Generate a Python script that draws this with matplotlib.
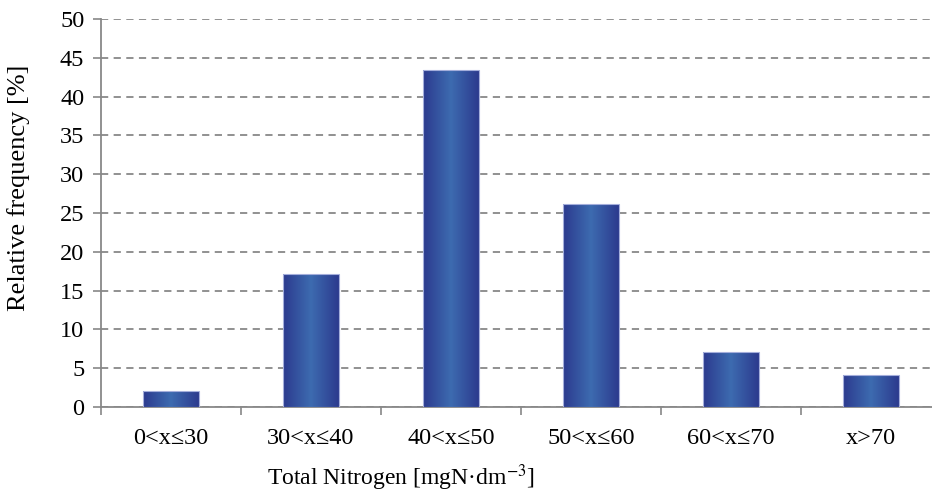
import numpy as np
import matplotlib.pyplot as plt
from matplotlib.colors import LinearSegmentedColormap

categories = ['0<x≤30', '30<x≤40', '40<x≤50', '50<x≤60', '60<x≤70', 'x>70']
frequency = [2.0, 17.1, 43.4, 26.2, 7.1, 4.1]

plt.rcParams['font.family'] = ['Liberation Serif', 'DejaVu Serif']
plt.rcParams['mathtext.fontset'] = 'stix'

fig = plt.figure(figsize=(9.32, 4.93), dpi=100)
ax = fig.add_axes([101/932, 86/493, 840/932, 388/493])

grad = LinearSegmentedColormap.from_list('bar', ['#2c3a8e', '#3d6bb0', '#2c3a8e'])
g = np.linspace(0, 1, 256).reshape(1, -1)
width = 0.4
x = np.arange(len(categories))
for xi, v in zip(x, frequency):
    rect = plt.Rectangle((xi - width/2, 0), width, v, fill=False,
                         edgecolor='#a4aedb', lw=0.8, zorder=4)
    ax.add_patch(rect)
    im = ax.imshow(g, cmap=grad, aspect='auto', extent=(xi - width/2, xi + width/2, 0, v + 0.5),
                   interpolation='bilinear', zorder=3)
    im.set_clip_path(rect)

ax.set_xlim(-0.5, len(categories) - 0.5)
ax.set_ylim(0, 50)
ax.set_yticks(np.arange(0, 51, 5))
ax.set_xticks(x)
ax.set_xticklabels(categories)
ax.set_xticks(np.arange(-0.5, len(categories), 1), minor=True)
ax.tick_params(axis='x', which='major', length=0, pad=15, labelsize=17.5)
ax.tick_params(axis='x', which='minor', length=6, color='#888888', width=1.2)
ax.tick_params(axis='y', length=6, color='#888888', width=1.2, labelsize=17.5, pad=6)

ax.grid(axis='y', linestyle=(0, (4, 3)), color='#888888', lw=1.3, zorder=0)
ax.set_axisbelow(True)
for s in ['top', 'right']:
    ax.spines[s].set_visible(False)
for s in ['left', 'bottom']:
    ax.spines[s].set_color('#888888')
    ax.spines[s].set_linewidth(1.3)

ax.set_ylabel('Relative frequency [%]', fontsize=19)
ax.yaxis.set_label_coords(-0.084, 0.564)
fig.text(401/932, 8/493, r'Total Nitrogen [mgN·dm$^{-3}$]', fontsize=17, ha='center', va='baseline')

fig.savefig('out.png', dpi=100)
